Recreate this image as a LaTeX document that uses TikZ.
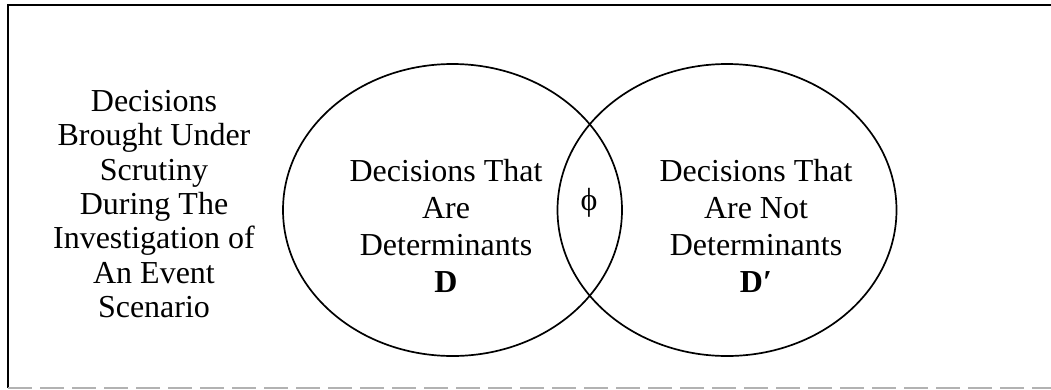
\documentclass[tikz,border=0pt]{standalone}
\usepackage{fontspec}
\setmainfont{LiberationSerif}[Extension=.ttf,UprightFont=*-Regular,BoldFont=*-Bold]
\usetikzlibrary{shapes.geometric}
\begin{document}
\begin{tikzpicture}[x=1pt,y=-1pt,
  setline/.style={draw=black,line width=1.7pt,shape=ellipse,
    minimum width=339pt,minimum height=292pt,inner sep=0pt},
  lbl/.style={align=center,font=\fontsize{32}{37}\selectfont,inner sep=0pt},
  frameline/.style={line width=2pt,draw=black}]
  \useasboundingbox (0,0) rectangle (1051,389);
  % frame
  \coordinate (ftr) at (1051,5);
  \coordinate (ftl) at (8,5);
  \coordinate (fbl) at (8,388);
  \coordinate (fbr) at (1051,388);
  \draw[frameline] (ftr) -- (ftl) -- (fbl);
  \draw[draw=black!30,line width=1.5pt,dash pattern=on 24pt off 8pt] (fbl) -- (fbr);
  % the two sets
  \node[setline] (D) at (452.5,210) {};
  \node[setline] (Dp) at (727,210) {};
  % labels
  \node[lbl,font=\fontsize{32}{34.3}\selectfont] (scope) at (154,204)
    {Decisions\\Brought Under\\Scrutiny\\During The\\Investigation of\\An Event\\Scenario};
  \node[lbl] (dtext) at (446,226)
    {Decisions That\\Are\\Determinants\\\textbf{D}};
  \node[lbl] (dptext) at (756,226)
    {Decisions That\\Are Not\\Determinants\\\textbf{D\char"2032}};
  \node[lbl] (empty) at (589,203) {\char"03D5};
\end{tikzpicture}
\end{document}
